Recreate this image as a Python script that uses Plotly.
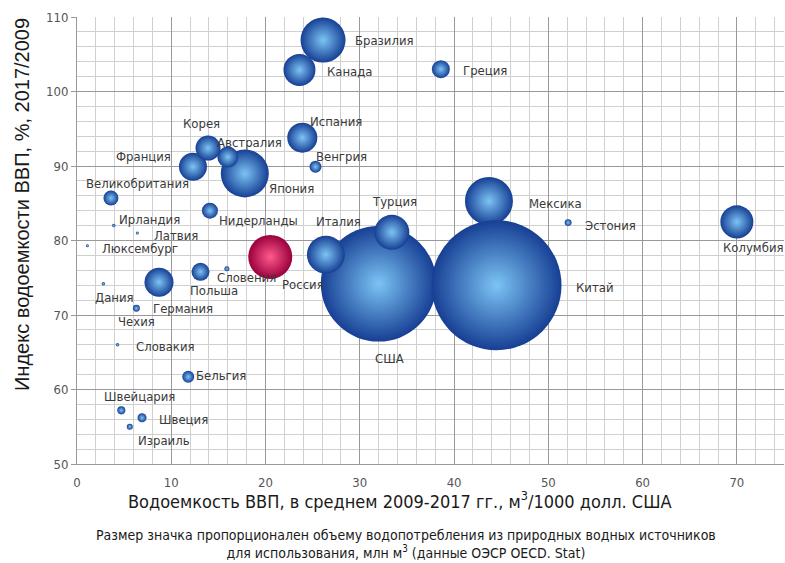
import plotly.graph_objects as go

# Страны ОЭСР и партнёры
countries = [
    "США", "Мексика", "Китай", "Япония", "Бразилия", "Россия", "Италия",
    "Турция", "Колумбия", "Канада", "Испания", "Германия", "Франция",
    "Австралия", "Корея", "Польша", "Греция", "Нидерланды",
    "Великобритания", "Венгрия", "Бельгия", "Швеция", "Швейцария",
    "Эстония", "Чехия", "Израиль", "Словения", "Ирландия", "Латвия",
    "Дания", "Словакия", "Люксембург",
]
# Водоемкость ВВП, м3/1000 долл. США (среднее 2009-2017)
water_intensity = [
    32.0, 43.7, 44.5, 17.8, 26.1, 20.5, 26.4,
    33.4, 70.0, 23.6, 23.9, 8.7, 12.3,
    16.0, 13.9, 13.1, 38.6, 14.1,
    3.6, 25.3, 11.8, 6.9, 4.7,
    52.1, 6.3, 5.6, 15.9, 3.9, 6.4,
    2.8, 4.3, 1.1,
]
# Индекс водоемкости ВВП, %, 2017/2009
intensity_index = [
    74.2, 85.3, 74.0, 89.0, 106.9, 77.8, 78.1,
    81.1, 82.5, 102.9, 93.8, 74.4, 89.9,
    91.2, 92.4, 75.8, 103.0, 84.0,
    85.7, 89.9, 61.7, 56.2, 57.2,
    82.4, 70.9, 55.0, 76.2, 82.0, 81.0,
    74.2, 66.0, 79.3,
]
# Водопотребление из природных источников, млн м3
withdrawal = [
    475000, 81800, 600000, 81800, 71900, 68700, 51000,
    43500, 38700, 36300, 32000, 29900, 27800,
    15700, 22200, 11500, 11500, 9100,
    8000, 5100, 5100, 2900, 2300,
    1700, 1700, 1300, 900, 430, 320,
    430, 430, 220,
]

# Смещения подписей относительно центра значка (px) и выравнивание
label_style = {
    "США": (11, -75, "center"), "Мексика": (38, -2, "left"),
    "Китай": (78, -2, "left"), "Япония": (22, -15, "left"),
    "Бразилия": (30, 0, "left"), "Россия": (10, -28, "left"),
    "Италия": (13, 33, "center"), "Турция": (3, 31, "center"),
    "Колумбия": (17, -26, "center"), "Канада": (26, -2, "left"),
    "Испания": (6, 16, "left"), "Германия": (24, -26, "center"),
    "Франция": (-20, 10, "right"), "Австралия": (22, 15, "center"),
    "Корея": (-7, 25, "center"), "Польша": (14, -19, "center"),
    "Греция": (20, -1, "left"), "Нидерланды": (7, -10, "left"),
    "Великобритания": (27, 15, "center"), "Венгрия": (-1, 10, "left"),
    "Бельгия": (6, 1, "left"), "Швеция": (15, -2, "left"),
    "Швейцария": (18, 14, "center"), "Эстония": (15, -3, "left"),
    "Чехия": (0, -13, "center"), "Израиль": (34, -14, "center"),
    "Словения": (-12, -9, "left"), "Ирландия": (3, 6, "left"),
    "Латвия": (15, -2, "left"), "Дания": (11, -14, "center"),
    "Словакия": (16, -2, "left"), "Люксембург": (13, -3, "left"),
}

edge_colors = ["#9a003c" if c == "Россия" else "#173f94" for c in countries]
core_colors = ["#ff5a8e" if c == "Россия" else "#7cc4f4" for c in countries]

max_px = 130
sizeref = 2.0 * max(withdrawal) / max_px ** 2

fig = go.Figure()
fig.add_trace(go.Scatter(
    x=water_intensity,
    y=intensity_index,
    mode="markers",
    text=countries,
    marker=dict(
        size=withdrawal,
        sizemode="area",
        sizeref=sizeref,
        sizemin=1.5,
        color=edge_colors,
        line=dict(width=0),
        gradient=dict(type="radial", color=core_colors),
        opacity=1,
    ),
    hovertemplate="%{text}<extra></extra>",
    showlegend=False,
))

narrow = "DejaVu Sans Condensed, Liberation Sans Narrow, Arial Narrow, Liberation Sans, sans-serif"
label_font = dict(family=narrow, size=13, color="#3a3a3a")
annotations = []
for name, xv, yv in zip(countries, water_intensity, intensity_index):
    dx, dy, anchor = label_style[name]
    annotations.append(dict(
        x=xv, y=yv, xref="x", yref="y", text=name, showarrow=False,
        xanchor=anchor, yanchor="middle", xshift=dx, yshift=dy,
        font=label_font,
    ))

# Подпись оси Y
annotations.append(dict(
    x=22, y=205, xref="paper", yref="paper",
    text="Индекс водоемкости ВВП, %, 2017/2009", showarrow=False,
    textangle=-90, xanchor="center", yanchor="middle",
    font=dict(family="Liberation Sans, Arial, sans-serif", size=20, color="#1a1a1a"),
))
# Подпись оси X и пояснение
annotations.append(dict(
    x=400, y=500, xref="paper", yref="paper",
    text="Водоемкость ВВП, в среднем 2009-2017 гг., м<sup>3</sup>/1000 долл. США",
    showarrow=False, xanchor="center", yanchor="middle",
    font=dict(family=narrow, size=18, color="#1a1a1a"),
))
annotations.append(dict(
    x=406, y=544, xref="paper", yref="paper",
    text="Размер значка пропорционален объему водопотребления из природных водных источников<br>"
         "для использования, млн м<sup>3</sup> (данные ОЭСР OECD. Stat)",
    showarrow=False, xanchor="center", yanchor="middle",
    font=dict(family=narrow, size=14, color="#1a1a1a"),
))

W, H = 785, 563
ML, MR, MT, MB = 77, 1, 17, 99
# пересчёт пиксельных координат подписей в доли области графика
for a in annotations:
    if a["xref"] == "paper":
        a["x"] = (a["x"] - ML) / (W - ML - MR)
        a["y"] = 1 - (a["y"] - MT) / (H - MT - MB)

tick_font = dict(family=narrow, size=13, color="#555555")
fig.update_layout(
    width=W, height=H,
    margin=dict(l=ML, r=MR, t=MT, b=MB),
    paper_bgcolor="white", plot_bgcolor="white",
    annotations=annotations,
    xaxis=dict(
        range=[0, 75], tick0=0, dtick=10, showgrid=True, gridcolor="#999999", gridwidth=1,
        minor=dict(dtick=2, showgrid=True, gridcolor="#d0d0d0", gridwidth=1),
        zeroline=False, showline=True, linecolor="#999999", linewidth=1,
        tickfont=tick_font, ticks="", ticklabelstandoff=6,
    ),
    yaxis=dict(
        range=[50, 110], tick0=50, dtick=10, showgrid=True, gridcolor="#999999", gridwidth=1,
        minor=dict(dtick=2, showgrid=True, gridcolor="#d0d0d0", gridwidth=1),
        zeroline=False, showline=True, linecolor="#999999", linewidth=1,
        tickfont=tick_font, ticks="outside", ticklen=5, tickcolor="#999999",
    ),
)

fig.write_html("out.html")
